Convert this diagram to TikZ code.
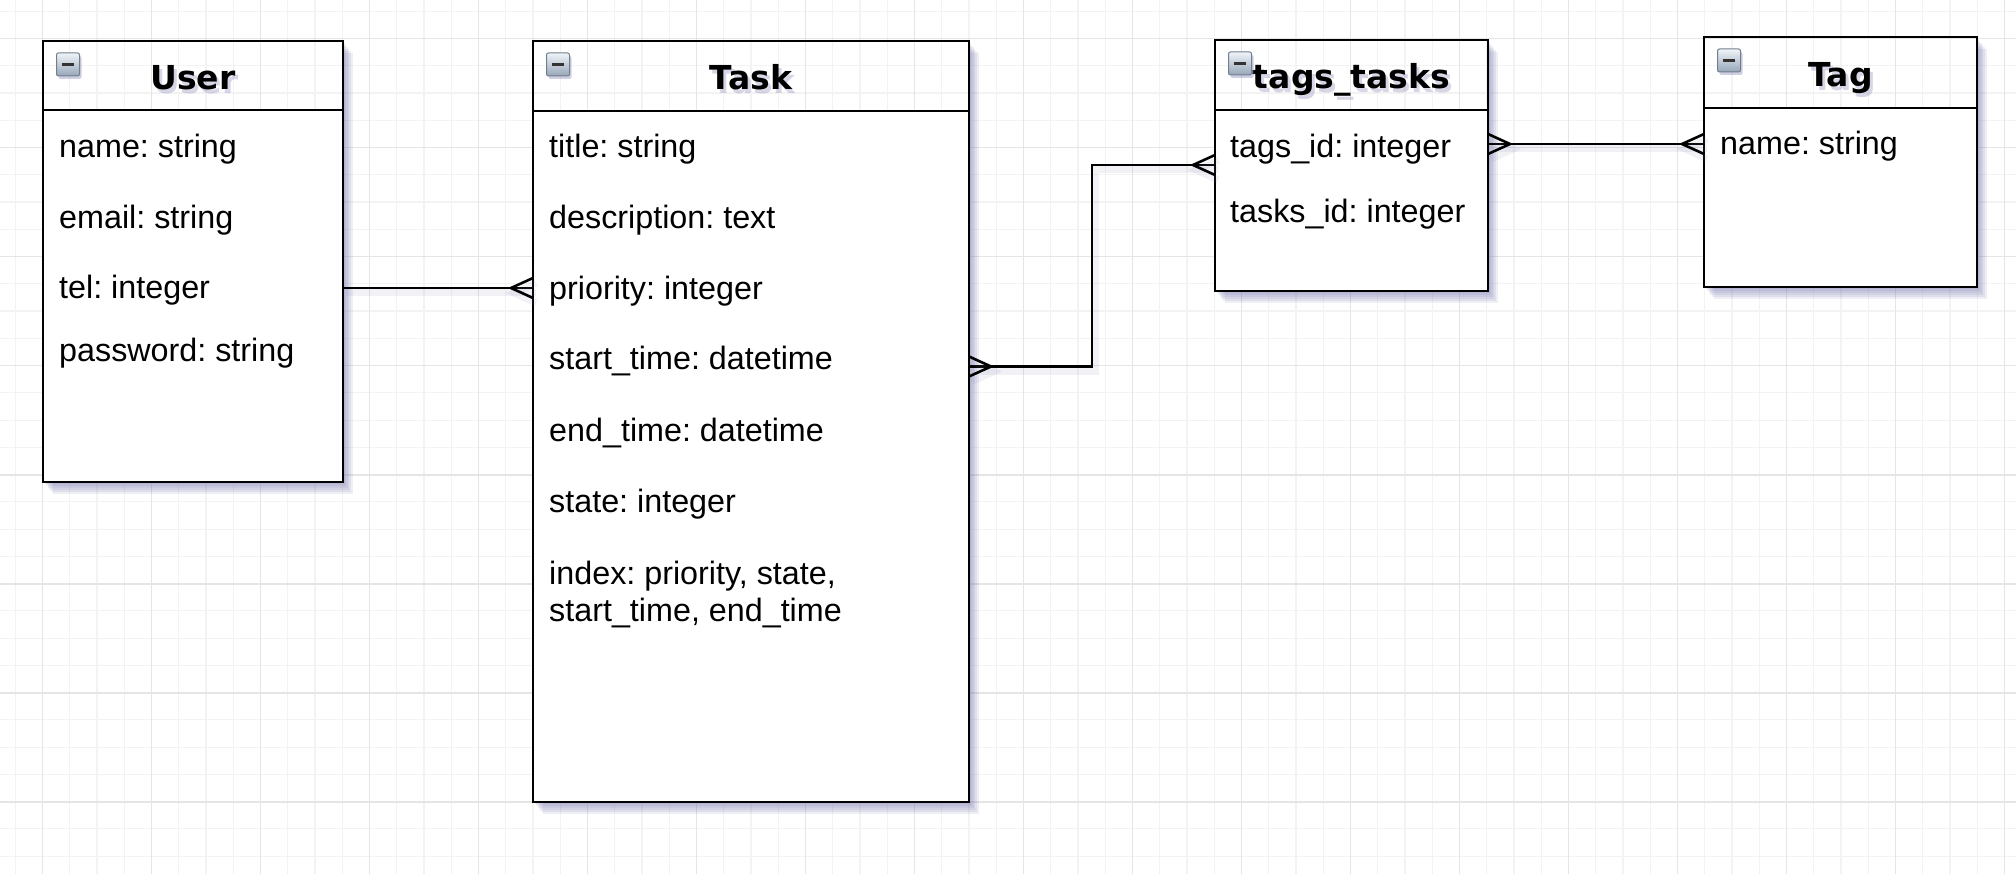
\documentclass[tikz,border=0pt]{standalone}
\usepackage{fontspec}
\setmainfont{Liberation Sans}
\newfontfamily\headfont{DejaVu Sans}
\usetikzlibrary{positioning,calc,shadows}
\frenchspacing

\definecolor{gridminor}{RGB}{243,243,243}
\definecolor{gridmajor}{RGB}{229,229,229}
\definecolor{shadowcol}{RGB}{120,120,175}
\definecolor{toggletop}{RGB}{240,244,248}
\definecolor{togglebottom}{RGB}{150,166,184}
\definecolor{toggleedge}{RGB}{112,126,142}

\pgfdeclarelayer{grid}
\pgfdeclarelayer{shade}
\pgfsetlayers{grid,shade,main}

% crow's foot at an entity edge, #2 = length (sign gives the side)
\newcommand{\crowsfoot}[2]{%
  \draw[link] ($(#1)+(0,-10)$) -- ($(#1)+(#2,0)$) -- ($(#1)+(0,10)$);}

\tikzset{
  entityhead/.style={draw, line width=2.6pt, outer sep=0pt, inner sep=0pt,
    anchor=north west, font=\headfont\bfseries\fontsize{33}{40}\selectfont,
    text height=34pt, text depth=6pt},
  entitybody/.style={draw, fill=white, line width=2.6pt, outer sep=0pt,
    anchor=north west},
  attr/.style={anchor=base west, inner sep=0pt,
    font=\fontsize{32.3}{39}\selectfont},
  toggle/.style={draw=toggleedge, line width=1pt, rounded corners=2pt,
    top color=toggletop, bottom color=togglebottom, minimum size=23pt,
    inner sep=0pt, text=black!80,
    drop shadow={shadow xshift=2pt, shadow yshift=-3pt, fill=shadowcol, opacity=0.35}},
  titleshadow/.style={inner sep=0pt, text=shadowcol, opacity=0.3,
    font=\headfont\bfseries\fontsize{33}{40}\selectfont,
    text height=34pt, text depth=6pt},
  link/.style={line width=2.6pt,
    preaction={draw=shadowcol, line width=7pt, opacity=0.1, transform canvas={shift={(3pt,-5pt)}}}}
}

\begin{document}
\begin{tikzpicture}[x=1pt, y=-1pt]
  \useasboundingbox (0,0) rectangle (2016,874);

  % Grid
  \begin{pgfonlayer}{grid}
    \fill[white] (0,0) rectangle (2016,874);
    \foreach \i in {0,...,73}
      \draw[gridminor, line width=1.2pt] ({15.15+27.25*\i},0) -- ++(0,874);
    \foreach \j in {0,...,31}
      \draw[gridminor, line width=1.2pt] (0,{11.35+27.25*\j}) -- ++(2016,0);
    \foreach \i in {0,...,18}
      \draw[gridmajor, line width=1.8pt] ({42.4+109*\i},0) -- ++(0,874);
    \foreach \j in {0,...,7}
      \draw[gridmajor, line width=1.8pt] (0,{38.6+109*\j}) -- ++(2016,0);
  \end{pgfonlayer}

  % Entities
  \node[entityhead, minimum width=300pt, minimum height=69pt] (user-head) at (43,41) {User};
  \node[entitybody, minimum width=300pt, minimum height=372pt] (user) at (user-head.south west) {};
  \node[entityhead, minimum width=436pt, minimum height=70pt] (task-head) at (533,41) {Task};
  \node[entitybody, minimum width=436pt, minimum height=691pt] (task) at (task-head.south west) {};
  \node[entityhead, minimum width=273pt, minimum height=70pt] (tt-head) at (1215,40) {tags\_tasks};
  \node[entitybody, minimum width=273pt, minimum height=181pt] (tt) at (tt-head.south west) {};
  \node[entityhead, minimum width=273pt, minimum height=71pt] (tag-head) at (1704,37) {Tag};
  \node[entitybody, minimum width=273pt, minimum height=179pt] (tag) at (tag-head.south west) {};

  % Collapse buttons
  \foreach \h in {user-head, task-head, tt-head, tag-head}
    \node[toggle] (\h-toggle) at ([shift={(25,23.5)}]\h.north west) {\rule{12pt}{3pt}};

  % Attributes
  \node[attr] (user-name) at ([shift={(16,48)}]user.north west) {name: string};
  \node[attr] (user-email) at ([shift={(16,119)}]user.north west) {email: string};
  \node[attr] (user-tel) at ([shift={(16,189)}]user.north west) {tel: integer};
  \node[attr] (user-password) at ([shift={(16,252)}]user.north west) {password: string};

  \node[attr] (task-title) at ([shift={(16,47)}]task.north west) {title: string};
  \node[attr] (task-description) at ([shift={(16,118)}]task.north west) {description: text};
  \node[attr] (task-priority) at ([shift={(16,189)}]task.north west) {priority: integer};
  \node[attr] (task-start) at ([shift={(16,259)}]task.north west) {start\_time: datetime};
  \node[attr] (task-end) at ([shift={(16,330)}]task.north west) {end\_time: datetime};
  \node[attr] (task-state) at ([shift={(16,401)}]task.north west) {state: integer};
  % base of a two-line node sits on its last line
  \node[attr, align=left] (task-index) at ([shift={(16,510.5)}]task.north west)
    {index: priority, state,\\[-2pt]start\_time, end\_time};

  \node[attr] (tt-tags) at ([shift={(15,48)}]tt.north west) {tags\_id: integer};
  \node[attr] (tt-tasks) at ([shift={(15,113)}]tt.north west) {tasks\_id: integer};

  \node[attr] (tag-name) at ([shift={(16,47)}]tag.north west) {name: string};

  % Shadows
  \begin{pgfonlayer}{shade}
    \foreach \b in {user, task, tt, tag} {
      \begin{scope}[even odd rule]
        \clip (0,0) rectangle (2016,874) (\b-head.north west) rectangle (\b.south east);
        \foreach \s in {2,4,...,12}
          \fill[shadowcol, opacity=0.12] ([shift={(0.8*\s,\s)}]\b-head.north west)
            rectangle ([shift={(0.8*\s,\s)}]\b.south east);
      \end{scope}
    }
    \foreach \b/\t in {user/User, task/Task, tt/tags\_tasks, tag/Tag}
      \node[titleshadow] (\b-title-shadow) at ([shift={(3,4)}]\b-head.center) {\t};
  \end{pgfonlayer}

  % Relations
  \coordinate (task-in) at ([yshift=-177pt]task.north west);
  \draw[link] (user.east |- task-in) -- (task-in);
  \crowsfoot{task-in}{-22}

  \coordinate (task-out) at ([yshift=-255.5pt]task.north east);
  \coordinate (tt-in) at ([yshift=-55pt]tt.north west);
  \draw[link] (task-out) -- ++(123,0) |- (tt-in);
  \crowsfoot{task-out}{22}
  \crowsfoot{tt-in}{-22}

  \coordinate (tt-out) at ([yshift=-34pt]tt.north east);
  \coordinate (tag-in) at (tag.west |- tt-out);
  \draw[link] (tt-out) -- (tag-in);
  \crowsfoot{tt-out}{22}
  \crowsfoot{tag-in}{-22}
\end{tikzpicture}
\end{document}
